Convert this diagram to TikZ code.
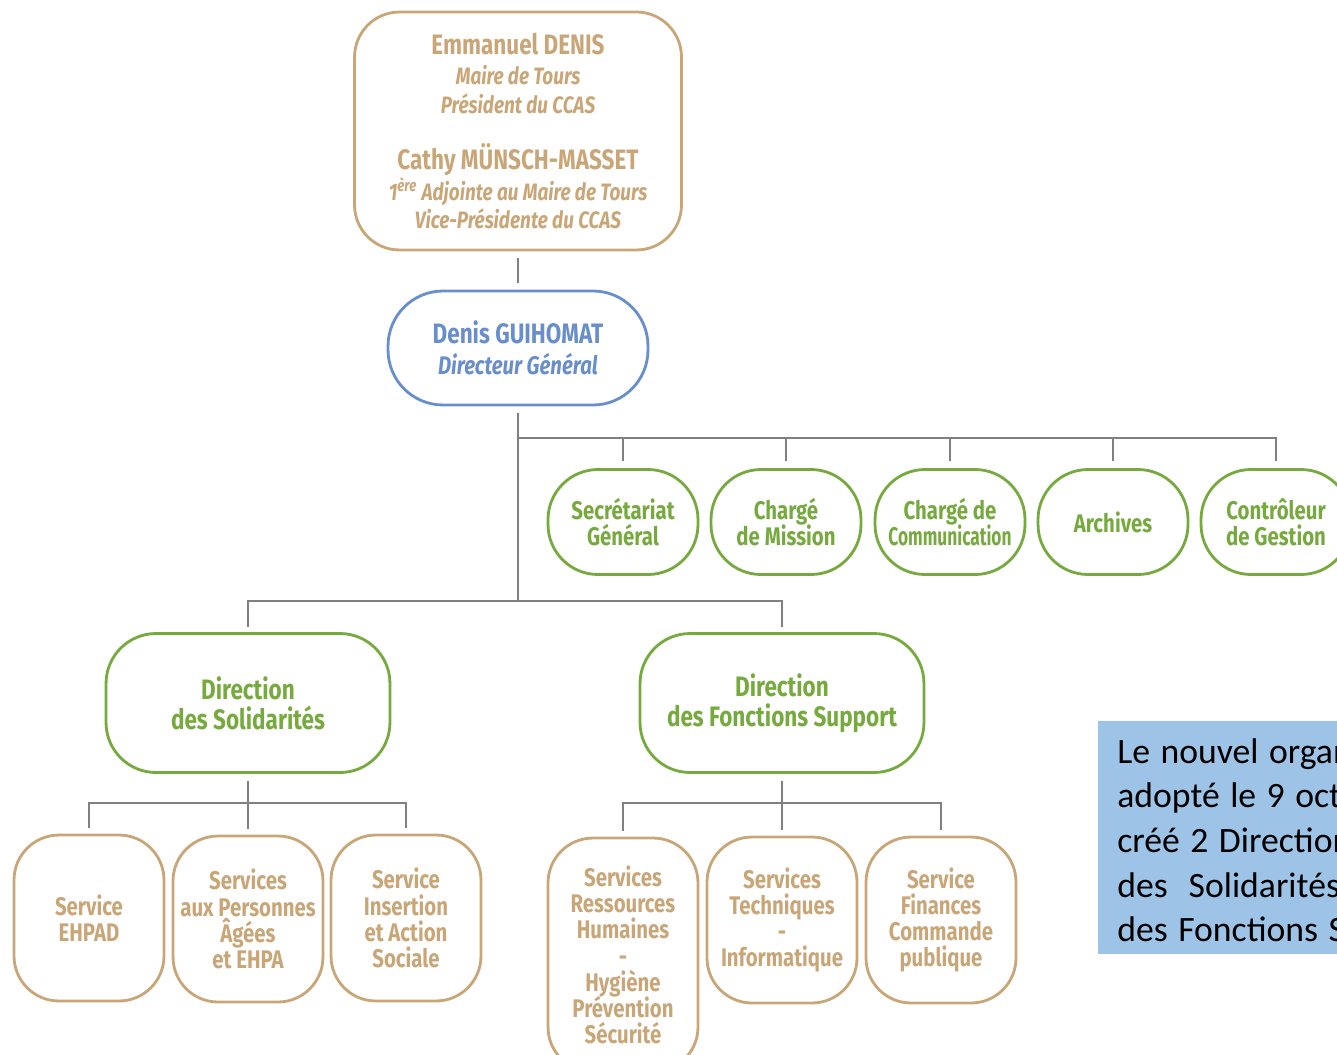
\documentclass[tikz,border=0pt]{standalone}
\usepackage{fontspec}
\setmainfont{Fira Sans}
\newfontfamily\orgfont{Fira Sans}[FakeStretch=0.8]
\newfontfamily\orgnarrow{Fira Sans}[FakeStretch=0.68]
\newfontfamily\notefont{Carlito}
\usepackage{tikz}
\newcommand\tightskip{\lineskiplimit=-20pt\relax}

\definecolor{brun}{RGB}{201,166,120}
\definecolor{vert}{RGB}{118,170,62}
\definecolor{bleu}{RGB}{104,142,204}
\definecolor{trait}{RGB}{128,128,128}
\definecolor{fond}{RGB}{157,195,230}

\begin{document}
\begin{tikzpicture}
        [x=0.02cm, y=-0.02cm,
        box/.style={draw, rectangle, line width=1.6pt, align=center, inner sep=2pt,
          font={\orgfont\bfseries\fontsize{14.5}{14.9}\selectfont\tightskip}},
        elu/.style={box, draw=brun, text=brun, minimum width=6.54cm, minimum height=4.76cm,
          rounded corners=0.9cm, font={\orgfont\bfseries\itshape\fontsize{13.5}{16.3}\selectfont\tightskip}},
        dg/.style={box, draw=bleu, text=bleu, minimum width=5.2cm, minimum height=2.28cm,
          rounded corners=1.1cm},
        mission/.style={box, draw=vert, text=vert, minimum width=3cm, minimum height=2.1cm,
          rounded corners=1cm, font={\orgfont\bfseries\fontsize{14.5}{14.7}\selectfont\tightskip}},
        dirbox/.style={box, draw=vert, text=vert, minimum width=5.68cm, minimum height=2.78cm,
          rounded corners=1cm, font={\orgfont\bfseries\fontsize{16}{17}\selectfont\tightskip}},
        service/.style={box, draw=brun, text=brun, minimum width=3cm, minimum height=3.32cm,
          rounded corners=0.9cm},
        notebox/.style={fill=fond, text=black, align=flush left, text width=8cm, minimum height=4.66cm,
          inner xsep=0.38cm, font={\notefont\fontsize{20.3}{25.4}\selectfont\spaceskip=1.3\fontdimen2\font\relax}},
        link/.style={draw=trait, line width=1.1pt}]
        \clip (0,0) rectangle (1337,1054);

        % elus et direction generale
        \node (elu) at (518,131) [elu] {{\upshape\fontsize{16}{17}\selectfont Emmanuel DENIS}\\[1pt]
          Maire de Tours\\ Président du CCAS\\[16pt]
          {\upshape\fontsize{16}{17}\selectfont Cathy MÜNSCH-MASSET}\\[1pt]
          1\textsuperscript{ère} Adjointe au Maire de Tours\\ Vice-Présidente du CCAS};
        \node (dg) at (518,348) [dg] {{\fontsize{16}{17}\selectfont Denis GUIHOMAT}\\[3pt]
          {\itshape Directeur Général}};
        \draw[link, shorten <=4pt, shorten >=4pt] (elu) -- (dg);

        % missions rattachees
        \node (sg) at (623,522) [mission] {Secrétariat\\ Général};
        \node (cm) at (786,522) [mission] {Chargé\\ de Mission};
        \node (com) at (950,522) [mission] {Chargé de\\ {\orgnarrow Communication}};
        \node (arch) at (1113,522) [mission] {Archives};
        \node (ctrl) at (1276,522) [mission] {Contrôleur\\ de Gestion};

        % directions
        \node (sol) at (248,703) [dirbox] {Direction\\ des Solidarités};
        \node (sup) at (782,703) [dirbox] {Direction\\ des Fonctions Support};

        % services
        \node (ehpad) at (89,918) [service] {Service\\ EHPAD};
        \node (pa) at (248,919) [service] {Services\\ aux Personnes\\ Âgées\\ et EHPA};
        \node (ias) at (406,918) [service] {Service\\ Insertion\\ et Action\\ Sociale};
        \node (rh) at (623,955) [service, minimum height=4.68cm] {Services\\ Ressources\\ Humaines\\ -\\
          Hygiène\\ Prévention\\ Sécurité};
        \node (tech) at (782,920) [service] {Services\\ Techniques\\ -\\ Informatique};
        \node (fin) at (941,920) [service] {Service\\ Finances\\ Commande\\ publique};

        \node (note) at (1098,721) [notebox, anchor=north west] {Le nouvel organigramme\\
          adopté le 9 octobre\\ créé 2 Directions\\ des~~Solidarités\\ des Fonctions Support\par\vspace{-6pt}};

        % liaisons
        \coordinate (b1) at (518,438);
        \coordinate (b2) at (518,601);
        \coordinate (b3) at (248,803);
        \coordinate (b4) at (782,803);
        \draw[link, shorten <=4pt] (dg) -- (b2);
        \foreach \m in {sg,cm,com,arch,ctrl}
          \draw[link, shorten >=4pt] (b1) -| (\m);
        \foreach \d in {sol,sup}
          \draw[link, shorten >=3pt] (b2) -| (\d);
        \draw[link, shorten <=4pt] (sol) -- (b3);
        \draw[link, shorten <=4pt] (sup) -- (b4);
        \foreach \s in {ehpad,pa,ias}
          \draw[link, shorten >=3pt] (b3) -| (\s);
        \foreach \s in {rh,tech,fin}
          \draw[link, shorten >=3pt] (b4) -| (\s);
\end{tikzpicture}
\end{document}
